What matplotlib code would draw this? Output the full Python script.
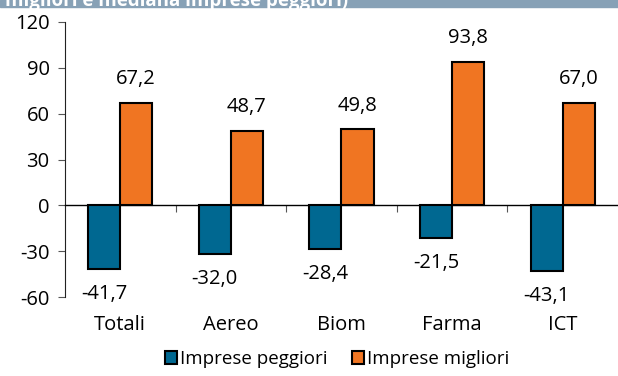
import matplotlib.pyplot as plt
import numpy as np

categories = ["Totali", "Aereo", "Biom", "Farma", "ICT"]
peggiori = [-41.7, -32.0, -28.4, -21.5, -43.1]
migliori = [67.2, 48.7, 49.8, 93.8, 67.0]
yticks = [-60, -30, 0, 30, 60, 90, 120]

blue = "#006891"
orange = "#f07522"

plt.rcParams['font.family'] = ['Open Sans', 'DejaVu Sans']

fig = plt.figure(figsize=(6.18, 3.76), dpi=100)
ax = fig.add_axes([0.105, 0.21, 0.895, 0.7315])

# title band, cut off at the top of the picture
fig.patches.append(plt.Rectangle((0, 0.981), 1, 0.02, transform=fig.transFigure,
                                 color="#87a1b6", zorder=0))
fig.text(0.008, 0.984, "migliori e mediana imprese peggiori)", color="white",
         fontsize=13.5, fontweight="bold", va="baseline", ha="left")

x = np.arange(len(categories)) + 0.5
w = 0.29
b1 = ax.bar(x - w / 2, peggiori, w, color=blue, edgecolor="black", linewidth=1.5,
            label="Imprese peggiori", zorder=3)
b2 = ax.bar(x + w / 2, migliori, w, color=orange, edgecolor="black", linewidth=1.5,
            label="Imprese migliori", zorder=3)

for xi, v in zip(x - w / 2, peggiori):
    ax.annotate(f"{v:.1f}".replace(".", ","), (xi, v), xytext=(0, -18),
                textcoords="offset points", ha="center", va="center", fontsize=14.5)
for xi, v in zip(x + w / 2, migliori):
    ax.annotate(f"{v:.1f}".replace(".", ","), (xi, v), xytext=(0, 17),
                textcoords="offset points", ha="center", va="center", fontsize=14.5)

ax.set_xlim(0, 5)
ax.set_ylim(-60, 120)
ax.set_yticks(yticks)
ax.set_yticklabels([str(t) for t in yticks], fontsize=14.5)
ax.tick_params(axis="y", direction="out", length=5, width=0.8, color="#555555", pad=6)

ax.spines["top"].set_visible(False)
ax.spines["right"].set_visible(False)
ax.spines["bottom"].set_position(("data", 0))
ax.spines["bottom"].set_linewidth(1)
ax.spines["left"].set_color("#222222")
ax.set_xticks([1, 2, 3, 4])
ax.set_xticklabels([])
ax.tick_params(axis="x", direction="out", length=5, width=0.8, color="#555555")

for xi, c in zip(x, categories):
    ax.text(xi, -0.10, c, transform=ax.get_xaxis_transform(), ha="center",
            va="center", fontsize=14.5)

fig.legend(handles=[b1, b2], loc="center", bbox_to_anchor=(0.545, 0.045), ncol=2,
           frameon=False, fontsize=13.5, handlelength=0.65, handleheight=0.65,
           handletextpad=0.15, columnspacing=1.3)

fig.savefig("out.png", dpi=100)
